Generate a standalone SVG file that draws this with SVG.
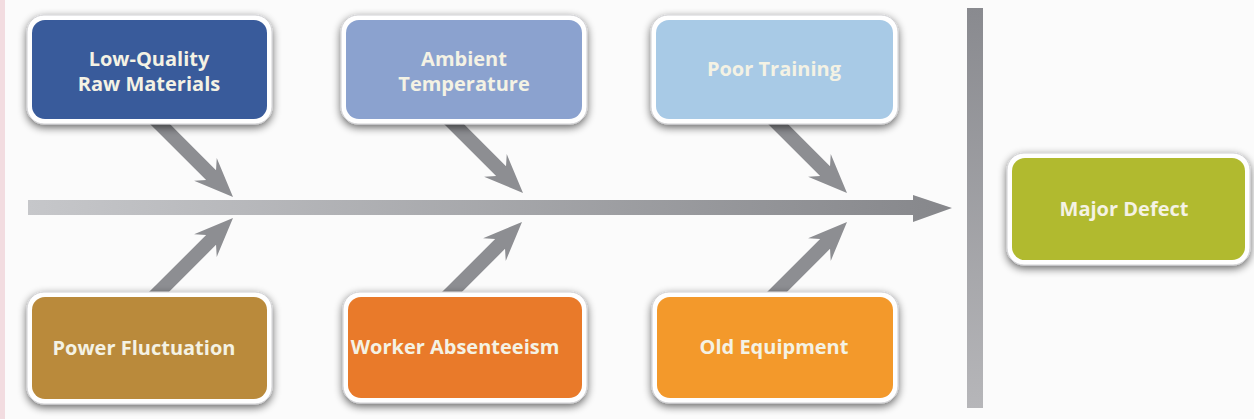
<svg xmlns="http://www.w3.org/2000/svg" width="1254" height="419" viewBox="0 0 1254 419">
  <style>
    .outer { fill: #ffffff; stroke: #d0d0d3; stroke-width: 1; filter: url(#shadow); }
    .lbl { font-family: "Open Sans", "Liberation Sans", sans-serif; font-weight: 700; font-size: 20px; fill: #f4f2e4; text-anchor: middle; }
    .branch { fill: #8d8e92; }
  </style>
  <defs>
    <filter id="shadow" x="-10%" y="-15%" width="120%" height="140%">
      <feGaussianBlur in="SourceAlpha" stdDeviation="4"/>
      <feOffset dx="0" dy="3" result="b"/>
      <feComponentTransfer><feFuncA type="linear" slope="0.6"/></feComponentTransfer>
      <feMerge><feMergeNode/><feMergeNode in="SourceGraphic"/></feMerge>
    </filter>
    <linearGradient id="spine" x1="0" y1="0" x2="1" y2="0">
      <stop offset="0" stop-color="#c6c7ca"/>
      <stop offset="1" stop-color="#86878b"/>
    </linearGradient>
    <linearGradient id="vbar" x1="0" y1="0" x2="0" y2="1">
      <stop offset="0" stop-color="#898a8f"/>
      <stop offset="1" stop-color="#b6b6b9"/>
    </linearGradient>
    <path id="arr" d="M0,0 L-39,-16 L-31,-7 L-115,-7 L-115,7 L-31,7 L-39,16 Z"/>
  </defs>

  <rect x="0" y="0" width="1254" height="419" fill="#fbfbfb"/>
  <rect x="0" y="0" width="5" height="419" fill="#f2dce0"/>

  <g id="connectors">
    <path d="M28,200 L913,200 L913,195 L952,208 L913,222 L913,215 L28,215 Z" fill="url(#spine)"/>
    <rect x="967" y="8" width="16" height="400" fill="url(#vbar)"/>
    <use href="#arr" class="branch" transform="translate(233,197) rotate(45)"/>
    <use href="#arr" class="branch" transform="translate(233,218) rotate(-45)"/>
    <use href="#arr" class="branch" transform="translate(523,193) rotate(45)"/>
    <use href="#arr" class="branch" transform="translate(522,222) rotate(-45)"/>
    <use href="#arr" class="branch" transform="translate(847,193) rotate(45)"/>
    <use href="#arr" class="branch" transform="translate(847,222) rotate(-45)"/>
  </g>

  <g id="node-raw-materials">
    <rect class="outer" x="27" y="15" width="245" height="109" rx="17"/>
    <rect x="32" y="20" width="235" height="99" rx="13" fill="#395b9b"/>
    <text class="lbl" x="149" y="66">Low-Quality</text>
    <text class="lbl" x="149" y="91">Raw Materials</text>
  </g>
  <g id="node-ambient-temperature">
    <rect class="outer" x="341" y="15" width="246" height="109" rx="17"/>
    <rect x="346" y="20" width="236" height="99" rx="13" fill="#8ba2cf"/>
    <text class="lbl" x="464" y="66">Ambient</text>
    <text class="lbl" x="464" y="91">Temperature</text>
  </g>
  <g id="node-poor-training">
    <rect class="outer" x="651" y="15" width="247" height="109" rx="17"/>
    <rect x="656" y="20" width="237" height="99" rx="13" fill="#a8cae6"/>
    <text class="lbl" x="774" y="76">Poor Training</text>
  </g>
  <g id="node-power-fluctuation">
    <rect class="outer" x="27" y="292" width="245" height="112" rx="17"/>
    <rect x="32" y="297" width="235" height="102" rx="13" fill="#ba8a3b"/>
    <text class="lbl" x="144" y="355">Power Fluctuation</text>
  </g>
  <g id="node-worker-absenteeism">
    <rect class="outer" x="343" y="292" width="244" height="111" rx="17"/>
    <rect x="348" y="297" width="234" height="101" rx="13" fill="#e97a2a"/>
    <text class="lbl" x="455" y="354">Worker Absenteeism</text>
  </g>
  <g id="node-old-equipment">
    <rect class="outer" x="652" y="292" width="246" height="111" rx="17"/>
    <rect x="657" y="297" width="236" height="101" rx="13" fill="#f3992b"/>
    <text class="lbl" x="774" y="354">Old Equipment</text>
  </g>
  <g id="node-major-defect">
    <rect class="outer" x="1007" y="153" width="243" height="112" rx="17"/>
    <rect x="1012" y="158" width="233" height="102" rx="13" fill="#b1ba2f"/>
    <text class="lbl" x="1124" y="216">Major Defect</text>
  </g>
</svg>
